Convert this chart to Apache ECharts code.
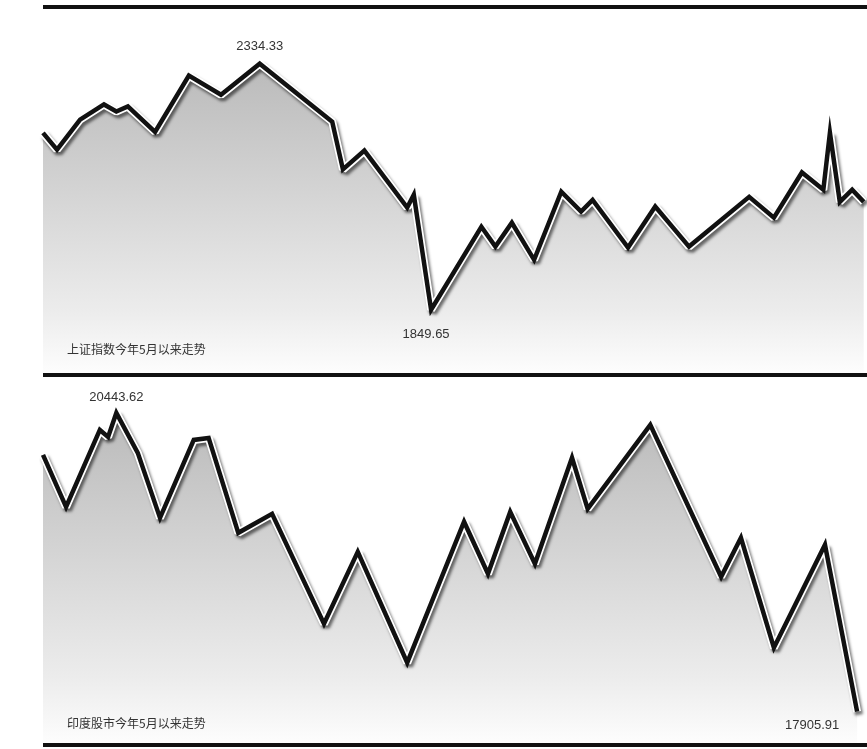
<!DOCTYPE html>
<html>
<head>
<meta charset="utf-8">
<script src="https://cdn.jsdelivr.net/npm/echarts@6/dist/echarts.min.js"></script>
<style>html,body{margin:0;padding:0;background:#fff}#c{width:867px;height:749px}</style>
</head>
<body>
<div id="c"></div>
<script>
// Shanghai Composite since May (x = relative trading-time position 0..100)
const shDays = [0, 1.7, 4.5, 7.4, 8.9, 10.3, 13.6, 17.7, 21.6, 26.3, 35.1, 36.4, 39.0, 44.2, 45.0, 47.1, 53.2, 54.9, 56.9, 59.6, 62.9, 65.3, 66.7, 71.0, 74.3, 78.4, 85.7, 88.7, 92.1, 94.7, 95.5, 96.7, 98.2, 99.6];
const shValues = [2198, 2165, 2224, 2254, 2240, 2250, 2200, 2311, 2273, 2334.33, 2220, 2126, 2163, 2051, 2076, 1849.65, 2013, 1974, 2021, 1948, 2082, 2043, 2066, 1972, 2053, 1974, 2072, 2031, 2120, 2086, 2198, 2062, 2086, 2062];
// India Sensex since May
const inDays = [0, 2.8, 6.9, 7.9, 8.9, 11.5, 14.2, 18.3, 20.1, 23.7, 27.8, 34.1, 38.2, 44.2, 51.1, 54.0, 56.7, 59.7, 64.2, 66.1, 73.7, 82.3, 84.7, 88.7, 94.9, 98.8];
const inValues = [20087, 19646, 20299, 20240, 20443.62, 20104, 19552, 20214, 20231, 19425, 19586, 18653, 19264, 18322, 19519, 19077, 19603, 19162, 20062, 19629, 20342, 19052, 19383, 18449, 19323, 17905.91];
const titles = ['上证指数今年5月以来走势', '印度股市今年5月以来走势'];

const chart = echarts.init(document.getElementById('c'));
const fontFamily = '"Liberation Sans", Arial, sans-serif';
function pair(d, v) { return d.map((x, i) => [x, v[i]]); }
const grad = new echarts.graphic.LinearGradient(0, 0, 0, 1, [
  {offset: 0, color: '#bababa'},
  {offset: 0.8, color: '#ececec'},
  {offset: 1, color: '#fdfdfd'}
]);
function panelSeries(idx, data, markCfg) {
  return [
    {
      type: 'line', xAxisIndex: idx, yAxisIndex: idx, data: data, symbol: 'none', silent: true,
      lineStyle: {color: '#ffffff', width: 8, shadowColor: 'rgba(0,0,0,0.55)', shadowBlur: 3, shadowOffsetX: 2, shadowOffsetY: 3},
      areaStyle: {color: grad, opacity: 1, origin: 'start'}
    },
    {
      type: 'line', xAxisIndex: idx, yAxisIndex: idx, data: data, symbol: 'none', silent: true,
      lineStyle: {color: '#111111', width: 4.5, join: 'miter'},
      markPoint: {
        symbol: 'circle', symbolSize: 1, itemStyle: {color: 'rgba(0,0,0,0)'},
        label: {show: true, color: '#333', fontSize: 13, fontFamily: fontFamily, formatter: p => p.value.toFixed(2)},
        data: markCfg
      }
    }
  ];
}
chart.setOption({
  animation: false,
  backgroundColor: '#ffffff',
  grid: [
    {left: 43, right: 0, top: 10, height: 363},
    {left: 43, right: 0, top: 378, height: 365}
  ],
  xAxis: [
    {gridIndex: 0, type: 'value', min: 0, max: 100, show: false},
    {gridIndex: 1, type: 'value', min: 0, max: 100, show: false}
  ],
  yAxis: [
    {gridIndex: 0, type: 'value', min: 1725, max: 2440, show: false, splitLine: {show: false}},
    {gridIndex: 1, type: 'value', min: 17640, max: 20740, show: false, splitLine: {show: false}}
  ],
  series: [
    ...panelSeries(0, pair(shDays, shValues), [
      {type: 'max', label: {position: 'top', offset: [0, -5]}},
      {type: 'min', label: {position: 'bottom', offset: [-5, 13]}}
    ]),
    ...panelSeries(1, pair(inDays, inValues), [
      {type: 'max', label: {position: 'top', offset: [0, -3]}},
      {type: 'min', label: {position: 'bottom', offset: [-45, 2]}}
    ])
  ],
  graphic: [
    {type: 'line', z: 100, shape: {x1: 43, y1: 7, x2: 867, y2: 7}, style: {stroke: '#111', lineWidth: 4}},
    {type: 'line', z: 100, shape: {x1: 43, y1: 375, x2: 867, y2: 375}, style: {stroke: '#111', lineWidth: 4}},
    {type: 'line', z: 100, shape: {x1: 43, y1: 745, x2: 867, y2: 745}, style: {stroke: '#111', lineWidth: 4}},
    {type: 'text', z: 100, left: 67, top: 343, style: {text: titles[0], fill: '#333', font: '12px "Noto Sans CJK SC", sans-serif'}},
    {type: 'text', z: 100, left: 67, top: 717, style: {text: titles[1], fill: '#333', font: '12px "Noto Sans CJK SC", sans-serif'}}
  ]
});
</script>
</body>
</html>
